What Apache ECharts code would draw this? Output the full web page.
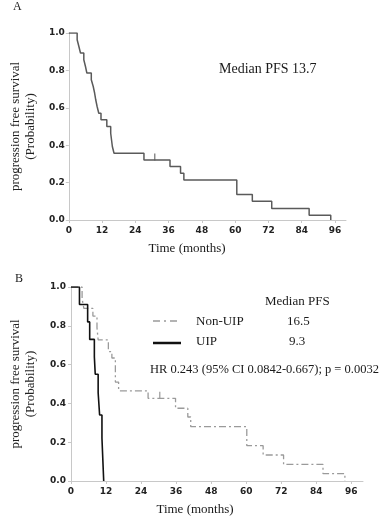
<!DOCTYPE html>
<html>
<head>
<meta charset="utf-8">
<title>PFS Kaplan-Meier</title>
<script src="https://cdn.jsdelivr.net/npm/echarts@6.0.0/dist/echarts.min.js"></script>
<style>
  html, body { margin: 0; padding: 0; background: #fff; }
  #chart { width: 383px; height: 519px; }
</style>
</head>
<body>
<div id="chart"></div>
<script>
// panel A - all patients
const timeA = [0, 3.0, 3.6, 4.2, 5.4, 6.0, 6.5, 8.1, 8.8, 9.3, 9.7, 10.2, 10.8, 11.6, 13.7, 15.1, 15.7, 16.3, 27.1, 36.5, 40.3, 41.5, 60.6, 66.2, 73.2, 86.7, 94.5];
const survA = [1.0, 0.964, 0.929, 0.893, 0.857, 0.821, 0.786, 0.75, 0.714, 0.679, 0.643, 0.607, 0.571, 0.536, 0.5, 0.464, 0.393, 0.357, 0.321, 0.286, 0.25, 0.214, 0.137, 0.1, 0.062, 0.025, 0];
const censorA = [[31, 0.321]];

// panel B - Non-UIP vs UIP
const timeNonUip = [0, 3.8, 4.4, 7.5, 8.9, 9.3, 12.8, 14.0, 15.2, 16.3, 26.4, 35.8, 40.0, 41.0, 60.2, 65.8, 72.8, 86.3, 93.8];
const survNonUip = [1.0, 0.94, 0.89, 0.85, 0.79, 0.727, 0.667, 0.634, 0.51, 0.465, 0.426, 0.375, 0.33, 0.28, 0.182, 0.134, 0.086, 0.038, 0];
const censorNonUip = [[30.4, 0.426]];

const timeUip = [0, 2.9, 5.7, 6.4, 8.0, 8.3, 9.3, 9.8, 10.6, 11.2];
const survUip = [1.0, 0.91, 0.82, 0.73, 0.64, 0.55, 0.455, 0.34, 0.22, 0];

const xTicks = [0, 12, 24, 36, 48, 60, 72, 84, 96];

const pairs = (t, s) => t.map((v, i) => [v, s[i]]);

const serif = '"Liberation Serif", "Times New Roman", serif';
const axisGray = '#c8c8c8';

function xAxisCfg(gridIndex) {
  return {
    gridIndex: gridIndex,
    type: 'value',
    min: 0,
    max: 100,
    interval: 12,
    axisLine: { lineStyle: { color: axisGray, width: 1 } },
    axisTick: { length: 3, lineStyle: { color: axisGray } },
    splitLine: { show: false },
    axisLabel: {
      margin: 6,
      showMaxLabel: false,
      color: '#222',
      fontFamily: 'DejaVu Sans',
      fontWeight: 'bold',
      fontSize: 9,
      formatter: (v) => (xTicks.indexOf(v) >= 0 ? String(v) : ''),
    },
  };
}

function yAxisCfg(gridIndex, gap, margin) {
  return {
    gridIndex: gridIndex,
    type: 'value',
    min: 0,
    max: 1,
    interval: 0.2,
    name: 'progression free survival\n(Probability)',
    nameLocation: 'middle',
    nameRotate: 90,
    nameGap: gap,
    nameTextStyle: { fontFamily: serif, fontSize: 13, color: '#222', lineHeight: 15 },
    axisLine: { show: true, lineStyle: { color: axisGray, width: 1 } },
    axisTick: { show: true, length: 3, lineStyle: { color: axisGray } },
    splitLine: { show: false },
    axisLabel: {
      margin: margin,
      color: '#222',
      fontFamily: 'DejaVu Sans',
      fontWeight: 'bold',
      fontSize: 9,
      formatter: (v) => v.toFixed(1),
    },
  };
}

function text(x, y, str, size, align) {
  return {
    type: 'text',
    x: x,
    y: y,
    style: {
      text: str,
      font: size + 'px ' + serif,
      fill: '#1a1a1a',
      textAlign: align || 'left',
      textVerticalAlign: 'middle',
    },
  };
}

const censorMark = {
  type: 'scatter',
  symbol: 'rect',
  symbolSize: [1.3, 7],
  symbolOffset: [0, -3],
  silent: true,
};

const chart = echarts.init(document.getElementById('chart'), null, { renderer: 'canvas' });

chart.setOption({
  animation: false,
  backgroundColor: '#fff',
  grid: [
    { left: 62, top: 33, width: 284, height: 187 },
    { left: 67, top: 287, width: 296, height: 194 },
  ],
  xAxis: [xAxisCfg(0), xAxisCfg(1)],
  yAxis: [yAxisCfg(0, 30, 4), yAxisCfg(1, 33, 5)],
  series: [
    {
      name: 'All',
      type: 'line',
      step: 'end',
      xAxisIndex: 0,
      yAxisIndex: 0,
      showSymbol: false,
      lineStyle: { color: '#5a5a5a', width: 1.5 },
      data: pairs(timeA, survA),
    },
    Object.assign({}, censorMark, {
      xAxisIndex: 0,
      yAxisIndex: 0,
      itemStyle: { color: '#5a5a5a' },
      data: censorA,
    }),
    {
      name: 'Non-UIP',
      type: 'line',
      step: 'end',
      xAxisIndex: 1,
      yAxisIndex: 1,
      showSymbol: false,
      lineStyle: { color: '#9a9a9a', width: 1.3, type: [7, 3, 2, 3] },
      data: pairs(timeNonUip, survNonUip),
    },
    Object.assign({}, censorMark, {
      xAxisIndex: 1,
      yAxisIndex: 1,
      itemStyle: { color: '#8a8a8a' },
      data: censorNonUip,
    }),
    {
      name: 'UIP',
      type: 'line',
      step: 'end',
      xAxisIndex: 1,
      yAxisIndex: 1,
      showSymbol: false,
      lineStyle: { color: '#111', width: 1.6 },
      data: pairs(timeUip, survUip),
    },
  ],
  graphic: [
    text(13, 7, 'A', 12),
    text(15, 279, 'B', 12),
    text(219, 69, 'Median PFS 13.7', 14),
    text(187, 249, 'Time (months)', 13, 'center'),
    text(195, 510, 'Time (months)', 13, 'center'),
    text(265, 302, 'Median PFS', 13),
    text(196, 322, 'Non-UIP', 13),
    text(287, 322, '16.5', 13),
    text(196, 342, 'UIP', 13),
    text(289, 342, '9.3', 13),
    text(150, 370, 'HR 0.243 (95% CI 0.0842-0.667); p = 0.0032', 12.5),
    // legend samples
    {
      type: 'line',
      shape: { x1: 153, y1: 321, x2: 181, y2: 321 },
      style: { stroke: '#9a9a9a', lineWidth: 1.5, lineDash: [7, 4, 2, 4] },
    },
    {
      type: 'line',
      shape: { x1: 153, y1: 343, x2: 181, y2: 343 },
      style: { stroke: '#111', lineWidth: 2.5 },
    },
  ],
});
</script>
</body>
</html>
